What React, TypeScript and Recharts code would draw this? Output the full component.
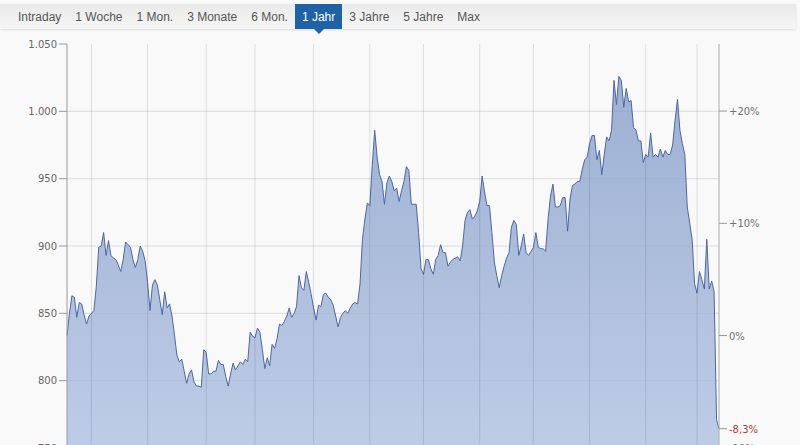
import React from "react";
import { ComposedChart, Area, Line, XAxis, YAxis, CartesianGrid, ReferenceLine } from "recharts";

const tabs = ["Intraday", "1 Woche", "1 Mon.", "3 Monate", "6 Mon.", "1 Jahr", "3 Jahre", "5 Jahre", "Max"];
const activeTab = "1 Jahr";

// daily closes, one year
const prices = [
  833.5, 850, 863, 862, 847, 858, 857, 849, 842, 848,
  850, 852, 870, 899, 900, 910, 893, 904, 893, 891,
  890, 886, 881, 890, 903, 901, 899, 890, 884, 890,
  900, 896, 889, 873, 852, 871, 875, 871, 860, 849,
  866, 854, 857, 848, 834, 819, 814, 816, 807, 798,
  805, 808, 799,
  796, 796, 795, 823, 821, 805, 805, 807, 807, 815,
  812, 812, 803, 796, 805, 813, 808, 811, 814, 812,
  816, 814, 836, 833, 832, 839, 836, 823, 809, 817,
  811, 827, 824, 831, 842, 841, 844, 848, 854, 847,
  850, 855, 878, 869, 867, 881, 873, 864, 854, 845,
  856, 855, 864,
  865, 862, 860, 856, 848, 840, 847, 850, 852, 850,
  854, 857, 858, 857, 872, 905, 920, 932, 930, 960,
  986, 966, 953, 948, 931, 947, 952, 948, 941, 943,
  933, 941, 948, 959, 956, 931, 931, 931, 910, 883,
  879, 890, 890, 883, 879, 890, 893, 901, 895, 895,
  885, 888, 890,
  891, 892, 889, 900, 919, 925, 927, 920, 922, 926,
  933, 952, 940, 930, 930, 910, 888, 878, 869, 878,
  885, 891, 895, 914, 919, 916, 893, 900, 909, 895,
  893, 896, 899, 910, 899, 898, 898, 896, 920, 937,
  946, 929, 929, 930, 936, 936, 911, 935, 945, 946,
  948, 948,
  957, 964, 966, 976, 982, 982, 964, 971, 953, 968,
  981, 978, 986, 1023, 1005, 1026, 1023, 1003, 1017, 1007,
  1008, 988, 986, 978, 978, 962, 968, 966, 984, 966,
  968, 966, 972, 966, 971, 968, 968, 975, 993, 1009,
  986, 976, 968, 929, 917, 905, 872, 865, 881, 875,
  868, 905, 868, 874, 866, 771, 764.5,
];

// index of first trading day of each month
const monthStarts = [10, 33, 57, 77, 101, 124, 146, 169, 191, 214, 237, 258];
const priceDomain = [750, 1050];
const priceTicks = [750, 800, 850, 900, 950, 1000, 1050];
const gridValues = [800, 850, 900, 950, 1000];
const pctTicks = [-10, 0, 10, 20];

const base = prices[0];
const lastPct = Math.round((prices[prices.length - 1] / base - 1) * 1000) / 10;
const pctDomain = priceDomain.map((v) => (v / base - 1) * 100);
const rightTicks = [...pctTicks, lastPct].sort((a, b) => a - b);
const data = prices.map((p, i) => ({ i, price: p, pct: (p / base - 1) * 100 }));

const AXIS_FONT = "'DejaVu Sans', Verdana, sans-serif";
const GRID = "rgba(0,0,0,0.11)";

function fmtPrice(v: number) {
  if (v < 1000) return String(v);
  return `${Math.floor(v / 1000)}.${String(v % 1000).padStart(3, "0")}`;
}

function fmtPct(v: number) {
  if (v === 0) return "0%";
  const s = String(v).replace(".", ",");
  return v > 0 ? `+${s}%` : `${s}%`;
}

function PctTick(props: any) {
  const { x, y, payload } = props;
  const isLast = payload.value === lastPct;
  return (
    <text
      x={x}
      y={y}
      dy={4}
      textAnchor="start"
      fontSize={10}
      fontFamily={AXIS_FONT}
      fill={isLast ? "#b8353a" : "#707070"}
    >
      {fmtPct(payload.value)}
    </text>
  );
}

function TabBar() {
  return (
    <div
      style={{
        position: "absolute",
        left: 0,
        top: 4,
        width: 796,
        height: 25,
        display: "flex",
        paddingLeft: 11,
        boxSizing: "border-box",
        background: "linear-gradient(#e9e9e9, #f6f6f6)",
        boxShadow: "0 1px 2px rgba(0,0,0,0.12)",
        fontFamily: "'Liberation Sans', Arial, sans-serif",
        fontSize: 12,
        zIndex: 2,
      }}
    >
      {tabs.map((t) => {
        const active = t === activeTab;
        return (
          <div
            key={t}
            style={{
              position: "relative",
              display: "flex",
              alignItems: "center",
              padding: "0 7px",
              background: active ? "#1f63a6" : "transparent",
              color: active ? "#fff" : "#555",
            }}
          >
            {t}
            {active && (
              <span
                style={{
                  position: "absolute",
                  left: "50%",
                  bottom: -5,
                  marginLeft: -5,
                  borderLeft: "5px solid transparent",
                  borderRight: "5px solid transparent",
                  borderTop: "5px solid #1f63a6",
                }}
              />
            )}
          </div>
        );
      })}
    </div>
  );
}

export default function App() {
  return (
    <div
      style={{
        position: "fixed",
        left: 0,
        top: 0,
        width: 800,
        height: 445,
        overflow: "hidden",
        background: "#f9f9f9",
      }}
    >
      <TabBar />
      <ComposedChart
        width={800}
        height={460}
        data={data}
        margin={{ top: 44, right: 0, bottom: 0, left: 0 }}
      >
        <defs>
          <linearGradient id="areaFill" x1="0" y1="0" x2="0" y2="1">
            <stop offset="0%" stopColor="#7f98c6" stopOpacity={0.75} />
            <stop offset="100%" stopColor="#a9bde0" stopOpacity={0.75} />
          </linearGradient>
        </defs>
        <CartesianGrid
          yAxisId="price"
          stroke="#dcdcdc"
          vertical={false}
          horizontalValues={gridValues}
        />
        <XAxis
          dataKey="i"
          type="number"
          domain={[0, prices.length - 1]}
          ticks={monthStarts}
          interval={0}
          tick={false}
          tickLine={false}
          axisLine={false}
          height={12}
        />
        <YAxis
          yAxisId="price"
          domain={priceDomain}
          ticks={priceTicks}
          interval={0}
          width={67}
          tickSize={8}
          tickFormatter={fmtPrice}
          tick={{ fill: "#666", fontSize: 10, fontFamily: AXIS_FONT }}
          axisLine={{ stroke: "#999" }}
          tickLine={{ stroke: "#999" }}
        />
        <YAxis
          yAxisId="pct"
          orientation="right"
          domain={pctDomain}
          ticks={rightTicks}
          interval={0}
          width={81}
          tickSize={8}
          tick={<PctTick />}
          axisLine={{ stroke: "#aaa" }}
          tickLine={{ stroke: "#999" }}
          allowDataOverflow
        />
        <Area
          yAxisId="price"
          type="linear"
          dataKey="price"
          stroke="#4d67a3"
          strokeWidth={1}
          fill="url(#areaFill)"
          fillOpacity={1}
          isAnimationActive={false}
        />
        <Line
          yAxisId="pct"
          dataKey="pct"
          stroke="none"
          dot={false}
          activeDot={false}
          isAnimationActive={false}
        />
        {monthStarts.map((m) => (
          <ReferenceLine key={m} x={m} yAxisId="price" stroke={GRID} strokeWidth={1} />
        ))}
      </ComposedChart>
    </div>
  );
}
